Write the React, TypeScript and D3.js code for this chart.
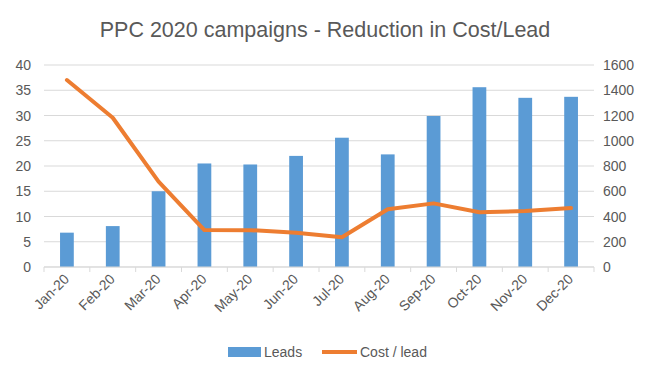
import React from "react";
import * as d3 from "d3";

const months = ["Jan-20","Feb-20","Mar-20","Apr-20","May-20","Jun-20","Jul-20","Aug-20","Sep-20","Oct-20","Nov-20","Dec-20"];
const leads = [6.8, 8.1, 15.0, 20.5, 20.3, 22.0, 25.6, 22.3, 29.9, 35.6, 33.5, 33.7];
const costPerLead = [1481, 1182, 676, 293, 292, 272, 235, 457, 504, 433, 443, 467];
const leftTicks = [0, 5, 10, 15, 20, 25, 30, 35, 40];
const rightTicks = [0, 200, 400, 600, 800, 1000, 1200, 1400, 1600];

const W = 646, H = 376;
const left = 44, right = 594, top = 65, bottom = 267;
const font = "Liberation Sans, Arial, sans-serif";
const grey = "#595959";

export default function App() {
  const x = d3.scaleBand<string>().domain(months).range([left, right]).paddingInner(0.7).paddingOuter(0.35);
  const xc = d3.scaleBand<string>().domain(months).range([left, right]);
  const yL = d3.scaleLinear().domain([0, 40]).range([bottom, top]);
  const yR = d3.scaleLinear().domain([0, 1600]).range([bottom, top]);
  const line = d3.line<number>()
    .x((_, i) => (xc(months[i]) as number) + xc.bandwidth() / 2)
    .y((d) => yR(d));
  const boundaries = months.map((m) => xc(m) as number).concat([right]);
  return (
    <svg width={W} height={H} style={{ position: "absolute", left: 0, top: 0, background: "#fff" }} fontFamily={font}>
      <rect width={W} height={H} fill="#fff" />
      <text x={325} y={37} textAnchor="middle" fontSize={21.5} fill={grey}>PPC 2020 campaigns - Reduction in Cost/Lead</text>
      {leftTicks.map((t) => (
        <line key={"g" + t} x1={left} x2={right} y1={yL(t)} y2={yL(t)} stroke="#d9d9d9" strokeWidth={1} />
      ))}
      {leftTicks.map((t) => (
        <text key={"l" + t} x={31} y={yL(t) + 5} textAnchor="end" fontSize={14} fill={grey}>{t}</text>
      ))}
      {rightTicks.map((t) => (
        <text key={"r" + t} x={603} y={yR(t) + 5} textAnchor="start" fontSize={14} fill={grey}>{t}</text>
      ))}
      {leads.map((v, i) => (
        <rect key={"b" + i} x={x(months[i])} y={yL(v)} width={x.bandwidth()} height={bottom - yL(v)} fill="#5B9BD5" />
      ))}
      <line x1={left} x2={right} y1={bottom} y2={bottom} stroke="#d9d9d9" />
      {boundaries.map((b, i) => (
        <line key={"t" + i} x1={b} x2={b} y1={bottom} y2={bottom + 5} stroke="#d9d9d9" />
      ))}
      <path d={line(costPerLead) || ""} fill="none" stroke="#ED7D31" strokeWidth={4} strokeLinejoin="round" strokeLinecap="round" />
      {months.map((m) => {
        const cx = (xc(m) as number) + xc.bandwidth() / 2 + 3;
        const cy = bottom + 13;
        return (
          <text key={"x" + m} transform={`translate(${cx},${cy}) rotate(-45)`} textAnchor="end" fontSize={14} fill={grey}>{m}</text>
        );
      })}
      <rect x={228} y={347} width={33} height={10} fill="#5B9BD5" />
      <text x={264} y={357} fontSize={14} fill={grey}>Leads</text>
      <line x1={322} x2={357} y1={352} y2={352} stroke="#ED7D31" strokeWidth={4} />
      <text x={360} y={357} fontSize={14} fill={grey}>Cost / lead</text>
    </svg>
  );
}
